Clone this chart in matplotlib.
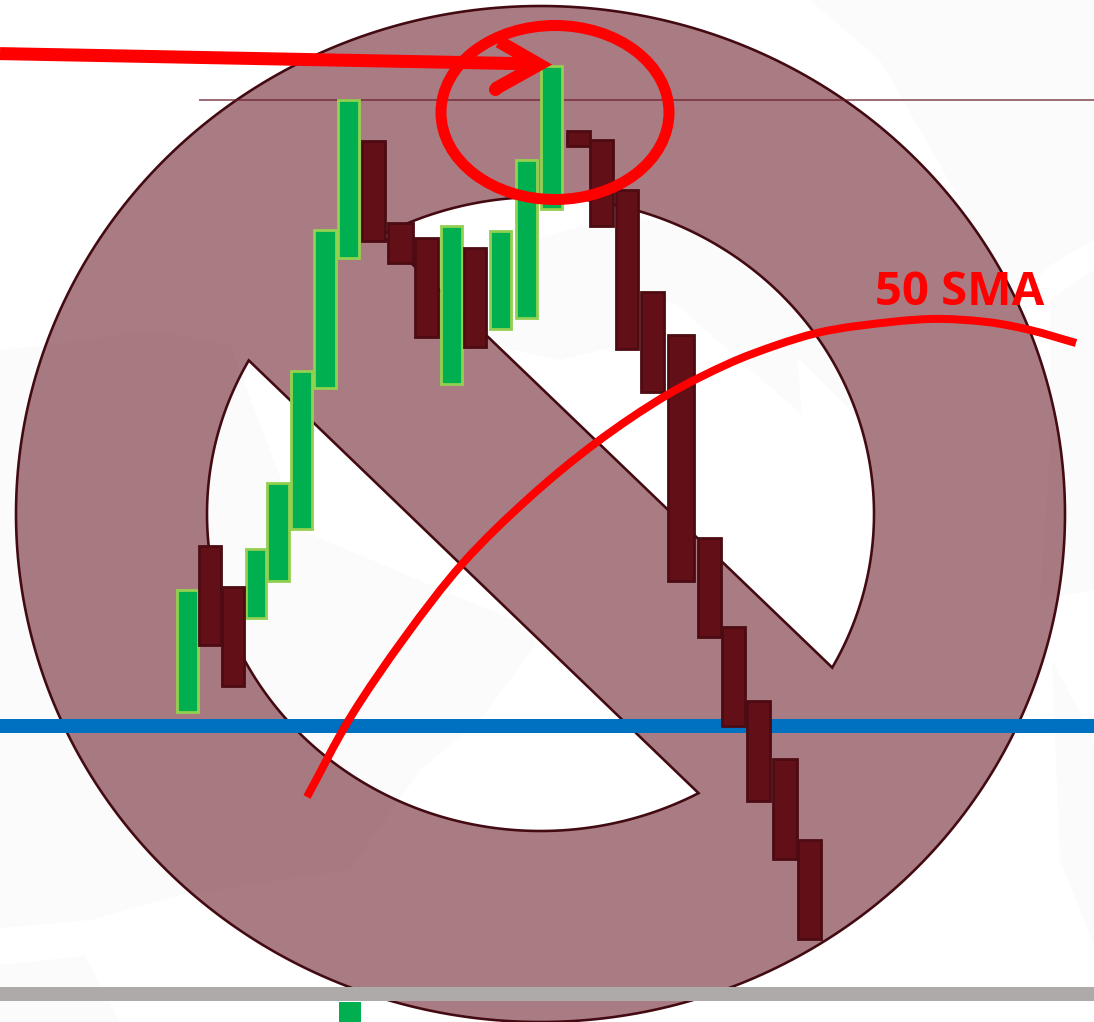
import numpy as np
import matplotlib
matplotlib.use("Agg")
import matplotlib.pyplot as plt
from matplotlib.patches import Rectangle, Ellipse, PathPatch, Polygon
from matplotlib.path import Path

W, H = 1094, 1022
px = 0.72

# candle: left, right, top, bottom
cand_left = [177,199,222,246,267,291,314,338,362,388,415,441,464,490,516,541,567,590,616,641,668,698,722,747,773,798]
cand_right = [198,221,244,266,289,312,336,359,385,413,438,462,486,511,537,562,590,613,638,664,694,721,745,770,797,821]
cand_top = [590,546,587,549,483,371,230,100,141,223,238,226,248,231,160,66,131,140,190,292,335,538,627,701,759,840]
cand_bot = [712,645,686,618,581,529,388,258,241,263,337,384,347,329,318,209,146,226,349,392,581,637,726,801,859,939]
cand_up = [1,0,0,1,1,1,1,1,0,0,0,1,0,1,1,1,0,0,0,0,0,0,0,0,0,0]

sma_x = [307,350,405,463,530,597,667,730,777,817,857,930,987,1030,1076]
sma_y = [797,718,637,563,497,442,395,363,345,333,326,319,322,330,343]

fig = plt.figure(figsize=(W/100, H/100), dpi=100)
ax = fig.add_axes([0, 0, 1, 1])
ax.set_xlim(0, W)
ax.set_ylim(H, 0)
ax.axis("off")

# faint background watermark
wm = "#fbfbfb"
for poly in [
    [(0,350),(50,345),(150,330),(230,345),(300,530),(513,620),(537,643),(480,720),(420,770),(350,870),(180,895),(90,920),(0,928)],
    [(0,965),(85,956),(120,1022),(0,1022)],
    [(810,0),(1094,0),(1094,240),(1050,265),(1015,300),(960,200),(880,60)],
    [(1050,300),(1094,270),(1094,590),(1040,600),(1050,450)],
    [(1052,660),(1094,740),(1094,945),(1060,860)],
    [(490,345),(560,360),(620,345),(640,300),(675,303),(802,415),(797,357),(860,420),(820,330),(700,230),(620,215),(500,250)],
]:
    ax.add_patch(Polygon(poly, closed=True, fc=wm, ec="none", zorder=1))

# prohibition sign (ellipse ring with diagonal bar)
cx, cy, rxo, ryo, rxi, ryi = 540.5, 514, 524.5, 508, 333.5, 317

def arc(rx, ry, a0, a1, n=180):
    t = np.radians(np.linspace(a0, a1, n))
    return np.c_[cx + rx*np.cos(t), cy + ry*np.sin(t)]

def closed(pts):
    return np.vstack([pts, pts[0]])

outer = closed(arc(rxo, ryo, 0, 360, 400))
# lower-left opening: corner (248,360) -> (699,794), then arc via bottom and left
a_ll0 = np.degrees(np.arctan2((794-cy)/ryi, (699-cx)/rxi))
a_ll1 = np.degrees(np.arctan2((360-cy)/ryi, (248-cx)/rxi)) + 360
low = closed(arc(rxi, ryi, a_ll0, a_ll1)[::-1])
# upper-right opening: corner (833,668) -> (378,228), then arc via top and right
a_ur0 = np.degrees(np.arctan2((228-cy)/ryi, (378-cx)/rxi))
a_ur1 = np.degrees(np.arctan2((668-cy)/ryi, (833-cx)/rxi))
up = closed(arc(rxi, ryi, a_ur0, a_ur1)[::-1])

verts = np.vstack([outer, low, up])
codes = []
for p in (outer, low, up):
    codes += [Path.MOVETO] + [Path.LINETO]*(len(p)-2) + [Path.CLOSEPOLY]
ax.add_patch(PathPatch(Path(verts, codes), fc="#6b1d2a", alpha=0.58, ec="none", zorder=2))
ax.add_patch(PathPatch(Path(verts, codes), fc="none", ec="#430a12", lw=2.6*px, zorder=3))

# level lines
ax.plot([199, W], [100, 100], color="#6b1d2a", alpha=0.75, lw=1.7*px, zorder=4, solid_capstyle="butt")
ax.add_patch(Rectangle((0, 719.5), W, 13.2, fc="#0070c0", ec="none", zorder=4))
ax.add_patch(Rectangle((0, 987.5), W, 13.2, fc="#aeaaaa", ec="none", zorder=4))

# candles
for l, r, t, b, u in zip(cand_left, cand_right, cand_top, cand_bot, cand_up):
    fc, ec = ("#00b050", "#92d050") if u else ("#630f18", "#4d0b12")
    ax.add_patch(Rectangle((l, t), r-l, b-t, fc=fc, ec=ec, lw=2.8*px, zorder=5 if u else 5.5))

# small green volume square at the bottom
ax.add_patch(Rectangle((339, 1002), 22, 20, fc="#00b050", ec="none", zorder=5))

# annotations
red = "#ff0000"

def smooth_path(xs, ys):
    p = np.c_[xs, ys].astype(float)
    d = np.hypot(*np.diff(p, axis=0).T)
    tan = np.zeros_like(p)
    tan[1:-1] = (p[2:] - p[:-2]) / (d[1:] + d[:-1])[:, None]
    tan[0] = (p[1]-p[0]) / d[0]
    tan[-1] = (p[-1]-p[-2]) / d[-1]
    v, c = [p[0]], [Path.MOVETO]
    for i in range(len(p)-1):
        v += [p[i] + tan[i]*d[i]/3, p[i+1] - tan[i+1]*d[i]/3, p[i+1]]
        c += [Path.CURVE4]*3
    return Path(v, c)

ax.add_patch(PathPatch(smooth_path(sma_x, sma_y), fc="none", ec=red, lw=8*px, capstyle="butt", zorder=7))
ax.text(960, 292.5, "50 SMA", color=red, fontsize=34, fontweight="bold", family="Open Sans",
        ha="center", va="center", zorder=8)
ax.add_patch(Ellipse((555, 112.5), 228, 174, fc="none", ec=red, lw=11*px, zorder=7))
ax.plot([0, 540], [53.6, 64], color=red, lw=13*px, solid_capstyle="butt", zorder=7)
ax.plot([499, 539, 495], [41.5, 64.5, 89], color=red, lw=13*px, solid_capstyle="butt",
        solid_joinstyle="miter", zorder=7)
ax.plot([495], [89], "o", color=red, ms=13*px, mew=0, zorder=7)

fig.savefig("out.png", dpi=100, facecolor="white")
